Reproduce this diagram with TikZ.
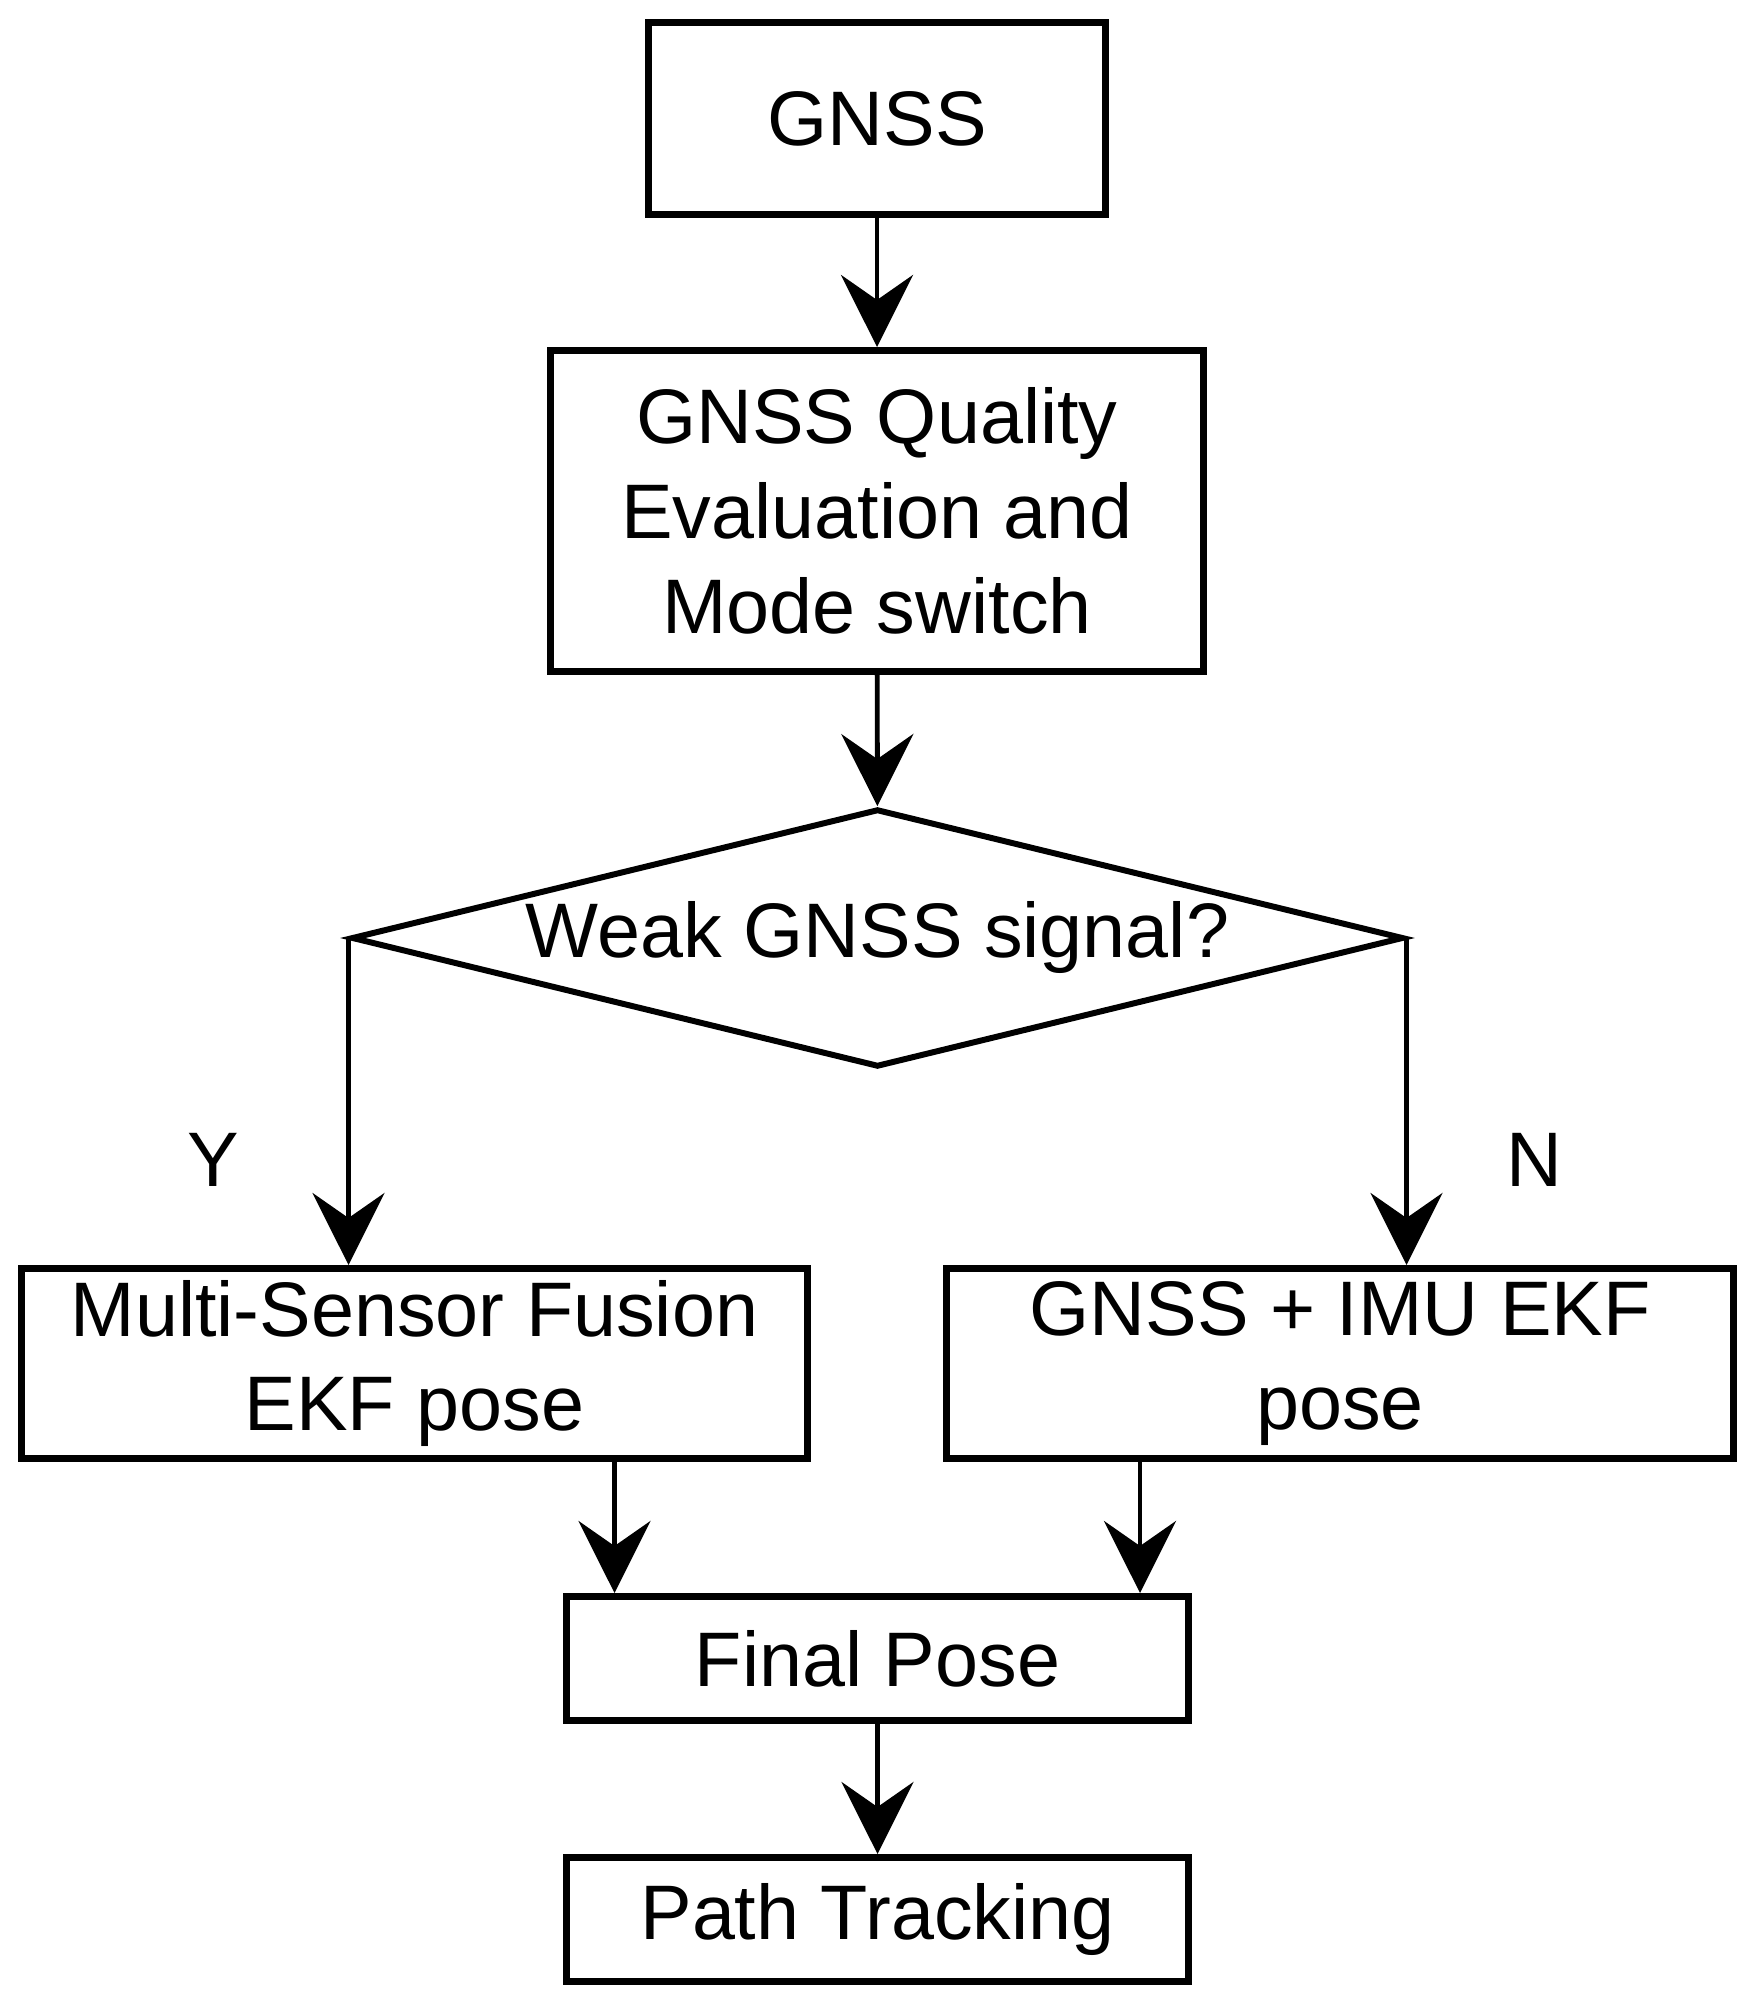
\documentclass[tikz,border=0pt]{standalone}
\usepackage{fontspec}
\setmainfont{Liberation Sans}
\usetikzlibrary{arrows.meta,positioning,shapes.geometric}

\begin{document}
\begin{tikzpicture}[
  txt/.style={font=\fontsize{22}{27}\selectfont},
  box/.style={draw, line width=2pt, align=center, inner sep=0pt, txt},
  arr/.style={line width=1.4pt, -{Stealth[length=7.2mm,width=7.2mm,inset=2.5mm]}}
]
\useasboundingbox (0,0) rectangle (17.57,-20.10);
\node[box, minimum width=4.57cm, minimum height=1.92cm] (G) at (8.77,-1.185) {GNSS};
\node[box, minimum width=6.53cm, minimum height=3.21cm] (Q) at (8.77,-5.11)
  {GNSS Quality\\Evaluation and\\Mode switch};
\node[draw, shape=diamond, aspect=4, line width=1.7pt, inner sep=0pt,
  minimum width=10.52cm, minimum height=2.58cm, txt] (W) at (8.775,-9.38) {Weak GNSS signal?};
\node[box, minimum width=7.86cm, minimum height=1.90cm] (M) at (4.145,-13.635)
  {Multi-Sensor Fusion\\EKF pose};
\node[box, minimum width=7.87cm, minimum height=1.90cm] (I) at (13.40,-13.635)
  {GNSS + IMU EKF\\pose};
\node[box, minimum width=6.22cm, minimum height=1.24cm] (F) at (8.775,-16.585) {Final Pose};
\node[box, minimum width=6.22cm, minimum height=1.24cm] (P) at (8.775,-19.195) {Path Tracking};

\draw[arr] (G) -- (Q);
\draw[arr] (Q) -- (W);
\draw[arr] (W.west) -- (W.west |- M.north) node[pos=0.68, xshift=-1.35cm, txt] {Y};
\draw[arr] (W.east) -- (W.east |- I.north) node[pos=0.68, xshift=1.28cm, txt] {N};
\draw[arr] ([xshift=2cm]M.south) -- ([xshift=2cm]M.south |- F.north);
\draw[arr] ([xshift=-2cm]I.south) -- ([xshift=-2cm]I.south |- F.north);
\draw[arr] (F) -- (P);
\end{tikzpicture}
\end{document}
